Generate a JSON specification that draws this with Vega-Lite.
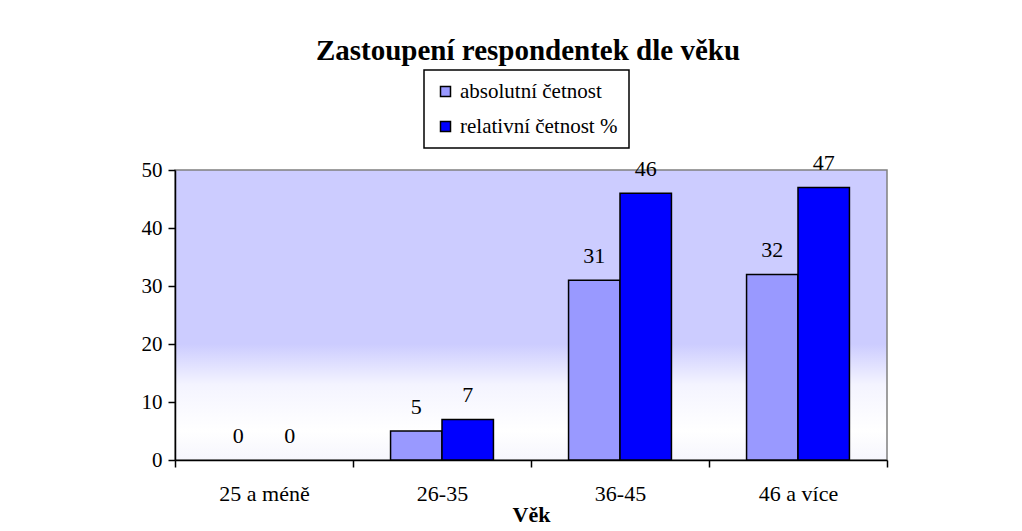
{
  "$schema": "https://vega.github.io/schema/vega-lite/v6.json",
  "width": 712,
  "height": 290,
  "autosize": "none",
  "padding": {"left": 175, "top": 170, "right": 135, "bottom": 71},
  "background": "white",
  "config": {
    "font": "Times New Roman",
    "mark": {"font": "Times New Roman"},
    "text": {"font": "Times New Roman"},
    "title": {"font": "Times New Roman"},
    "style": {"guide-label": {"font": "Times New Roman"}, "guide-title": {"font": "Times New Roman"}, "group-title": {"font": "Times New Roman"}},
    "view": {
      "fill": {
        "gradient": "linear", "x1": 0, "y1": 0, "x2": 0, "y2": 1,
        "stops": [
          {"offset": 0, "color": "#ccccff"},
          {"offset": 0.6, "color": "#ccccff"},
          {"offset": 0.74, "color": "#f4f4ff"},
          {"offset": 0.9, "color": "#ffffff"},
          {"offset": 1, "color": "#f6f6fd"}
        ]
      },
      "stroke": "#808080",
      "strokeWidth": 1.5
    },
    "axis": {
      "domainColor": "black", "domainWidth": 1.5, "tickColor": "black", "tickWidth": 1.5,
      "tickSize": 7, "grid": false, "labelColor": "black", "labelFontSize": 21,
      "labelFont": "Times New Roman", "titleFont": "Times New Roman", "titleColor": "black"
    },
    "legend": {
      "orient": "none", "legendX": 249, "legendY": -100,
      "strokeColor": "black", "strokeWidth": 1.5, "fillColor": "white",
      "padding": 11, "symbolType": "square", "symbolSize": 100,
      "symbolStrokeColor": "black", "symbolStrokeWidth": 1.5, "symbolOpacity": 1,
      "labelFontSize": 21, "labelFont": "Times New Roman", "labelColor": "black",
      "labelLimit": 400, "rowPadding": 13, "labelOffset": 4
    }
  },
  "title": {
    "text": "Zastoupení respondentek dle věku",
    "font": "Times New Roman", "fontSize": 29, "fontWeight": "bold", "color": "black",
    "anchor": "middle", "baseline": "alphabetic", "offset": -20, "dx": -3
  },
  "data": {
    "values": [
      {"age": "25 a méně", "series": "absolutní četnost", "value": 0},
      {"age": "25 a méně", "series": "relativní četnost %", "value": 0},
      {"age": "26-35", "series": "absolutní četnost", "value": 5},
      {"age": "26-35", "series": "relativní četnost %", "value": 7},
      {"age": "36-45", "series": "absolutní četnost", "value": 31},
      {"age": "36-45", "series": "relativní četnost %", "value": 46},
      {"age": "46 a více", "series": "absolutní četnost", "value": 32},
      {"age": "46 a více", "series": "relativní četnost %", "value": 47}
    ]
  },
  "encoding": {
    "x": {
      "field": "age", "type": "nominal", "sort": null,
      "scale": {"paddingInner": 0, "paddingOuter": 0},
      "axis": {"labelAngle": 0, "tickBand": "extent", "title": "Věk", "titleFontWeight": "bold",
               "titleFontSize": 22, "labelFontSize": 22, "labelPadding": 16, "titlePadding": 0}
    },
    "xOffset": {
      "field": "series", "type": "nominal", "sort": null,
      "scale": {"paddingInner": 0, "paddingOuter": 0.73}
    },
    "y": {
      "field": "value", "type": "quantitative",
      "scale": {"domain": [0, 50], "nice": false},
      "axis": {"values": [0, 10, 20, 30, 40, 50], "title": null, "labelPadding": 6}
    }
  },
  "layer": [
    {
      "mark": {"type": "bar", "stroke": "black", "strokeWidth": 1.5},
      "encoding": {
        "color": {
          "field": "series", "type": "nominal", "sort": null,
          "scale": {"domain": ["absolutní četnost", "relativní četnost %"], "range": ["#9999ff", "#0000ff"]},
          "legend": {"title": null}
        },
        "strokeOpacity": {"condition": {"test": "datum.value === 0", "value": 0}, "value": 1}
      }
    },
    {
      "mark": {"type": "text", "baseline": "alphabetic", "dy": -17, "fontSize": 22, "color": "black"},
      "encoding": {"text": {"field": "value", "type": "quantitative"}}
    }
  ]
}
